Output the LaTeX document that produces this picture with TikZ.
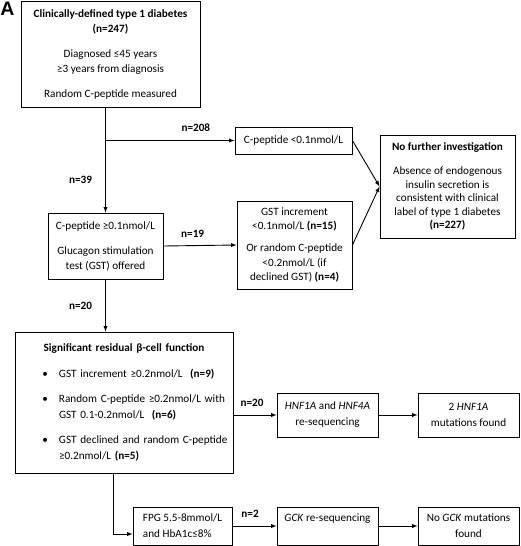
\documentclass[tikz,border=0pt]{standalone}
\usepackage{fontspec}
\setmainfont{Carlito}
\newfontfamily\panelfont{Liberation Sans}
\usepackage{xcolor}
\usepackage{tikz}

\newcommand{\bulletitem}{\leavevmode\llap{\textbullet\hskip11pt}}

\begin{document}
\begin{tikzpicture}[
    x=1pt, y=-1pt,
    entity/.style={rectangle, draw, line width=0.9pt, align=center, inner sep=0pt, font=\fontsize{11.2}{15}\selectfont},
    arrow/.style={-latex, line width=0.9pt},
    nlabel/.style={font=\fontsize{11.2}{13}\selectfont\bfseries, inner sep=2pt}
]
\useasboundingbox (0,0) rectangle (520,546);

\node[font=\panelfont\bfseries\fontsize{19.5}{20}\selectfont, inner sep=0pt] (panel) at (7.5,9) {A};

\node[entity, minimum width=179pt, minimum height=106pt] (start) at (110.5,54) {\textbf{Clinically-defined type 1 diabetes}\\ \textbf{(n=247)}\\[10pt] Diagnosed ≤45 years\\ ≥3 years from diagnosis\\[10pt] Random C-peptide measured};
\node[entity, minimum width=115pt, minimum height=66pt] (cpos) at (105.5,246) {C-peptide ≥0.1nmol/L\\[10pt] Glucagon stimulation\\ test (GST) offered};
\node[entity, minimum width=117pt, minimum height=27pt] (cneg) at (293.5,140.5) {C-peptide <0.1nmol/L};
\node[entity, minimum width=115pt, minimum height=88pt, font=\fontsize{11.2}{14.5}\selectfont] (gstneg) at (294.5,245) {GST increment\\ <0.1nmol/L \textbf{(n=15)}\\[7.5pt] Or random C-peptide\\ <0.2nmol/L (if\\ declined GST) \textbf{(n=4)}};
\node[entity, minimum width=135pt, minimum height=103pt, font=\fontsize{11.2}{13.5}\selectfont] (nofurther) at (447.5,186.5) {\textbf{No further investigation}\\[10.5pt] Absence of endogenous\\ insulin secretion is\\ consistent with clinical\\ label of type 1 diabetes\\ \textbf{(n=227)}};
\node[entity, text width=218pt, minimum height=141pt, font=\fontsize{11.2}{15.5}\selectfont] (resid) at (124,402.5) {%
  \parskip=10pt\parindent=0pt
  {\leftskip=0pt plus 1fil\rightskip=0pt plus 1fil\parfillskip=0pt \textbf{Significant residual β-cell function}\par}
  \leftskip=44pt\rightskip=0pt plus 1fil\parfillskip=0pt plus 1fil
  \bulletitem GST increment ≥0.2nmol/L\ \ \textbf{(n=9)}\par
  \bulletitem Random C-peptide ≥0.2nmol/L with\newline GST 0.1-0.2nmol/L\ \ \textbf{(n=6)}\par
  \bulletitem GST declined and random C-peptide\newline ≥0.2nmol/L \textbf{(n=5)}\par
  \vspace{14pt}};
\node[entity, minimum width=101pt, minimum height=44pt, font=\fontsize{11.2}{16}\selectfont] (hnf) at (327.5,415) {\textit{HNF1A} and \textit{HNF4A}\\ re-sequencing};
\node[entity, minimum width=101pt, minimum height=44pt, font=\fontsize{11.2}{16}\selectfont] (hnfmut) at (468.5,415) {2 \textit{HNF1A}\\ mutations found};
\node[entity, minimum width=99pt, minimum height=38pt, align=left, font=\fontsize{11.2}{16}\selectfont] (fpg) at (182.5,526) {FPG 5.5-8mmol/L\\ and HbA1c≤8\%};
\node[entity, minimum width=101pt, minimum height=38pt, font=\fontsize{11.2}{16}\selectfont] (gck) at (327.5,526) {\textit{GCK} re-sequencing\\ \mbox{}};
\node[entity, minimum width=101pt, minimum height=38pt, font=\fontsize{11.2}{16}\selectfont] (nogck) at (468.5,526) {No \textit{GCK} mutations\\ found};

\coordinate (split) at (cpos.north |- cneg.west);

\draw[arrow] (start.south -| cpos.north) -- node[nlabel, left=11pt, pos=0.69] {n=39} (cpos.north);
\draw[arrow] (split) -- node[nlabel, above=6pt, pos=0.7] {n=208} (cneg.west);
\draw[arrow] (cpos.east) -- node[nlabel, above=6pt, pos=0.4] {n=19} (gstneg.west);
\draw[arrow] (cneg.east) -- (nofurther.west);
\draw[arrow] (gstneg.east) -- (nofurther.west);
\draw[arrow] (cpos.south) -- node[nlabel, left=11pt] {n=20} (cpos.south |- resid.north);
\draw[arrow] (resid.east |- hnf.west) -- node[nlabel, above=6pt, pos=0.43] {n=20} (hnf.west);
\draw[arrow] (hnf) -- (hnfmut);
\draw[arrow] ([xshift=-11pt]resid.south) |- ([yshift=-8pt]fpg.west);
\draw[arrow] (fpg) -- node[nlabel, above=6pt, pos=0.4] {n=2} (gck);
\draw[arrow] (gck) -- (nogck);

\end{tikzpicture}
\end{document}
